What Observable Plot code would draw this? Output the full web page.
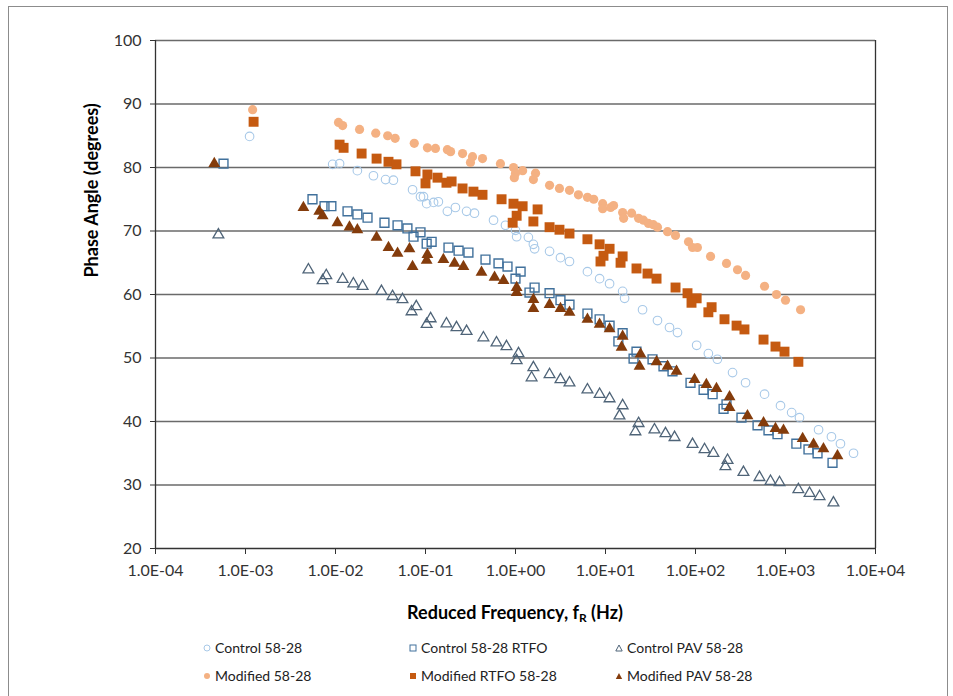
<!DOCTYPE html>
<html>
<head>
<meta charset="utf-8">
<script src="https://cdn.jsdelivr.net/npm/d3@7"></script>
<script src="https://cdn.jsdelivr.net/npm/@observablehq/plot@0.6"></script>
<style>
  html, body { margin: 0; padding: 0; background: #fff; }
  #wrap { position: relative; width: 953px; height: 696px; overflow: hidden; font-family: Lato, "Open Sans", sans-serif; }
  #frame { position: absolute; left: 8px; top: 6px; width: 940px; height: 720px; border: 1px solid #8c8c8c; box-sizing: border-box; }
  #chart { position: absolute; left: 0; top: 0; }
  #xtitle { position: absolute; left: 155px; width: 720px; top: 599px; text-align: center; font-weight: 700; font-size: 18px; line-height: 26px; color: #000; }
  #xtitle sub { font-size: 12px; vertical-align: -3px; line-height: 0; }
  .leg { position: absolute; font-size: 14px; line-height: 16px; color: #222; white-space: nowrap; display: flex; align-items: center; }
  .leg svg { margin-right: 4px; }
</style>
</head>
<body>
<div id="wrap">
  <div id="frame"></div>
  <div id="chart"></div>
  <div id="xtitle">Reduced Frequency, f<sub>R</sub> (Hz)</div>
  <div id="legend"></div>
</div>
<script>
// ---- Data (frequency in Hz, phase angle in degrees) ----
const control5828 = [[1.11e-3,84.9],[0.0093,80.5],[0.0111,80.6],[0.0175,79.5],[0.0264,78.7],[0.036,78.1],[0.044,78.0],[0.0718,76.5],[0.088,75.4],[0.095,75.4],[0.103,74.3],[0.123,74.5],[0.139,74.6],[0.175,73.1],[0.215,73.7],[0.286,73.1],[0.35,72.8],[0.57,71.7],[0.774,70.9],[1.0,70.1],[1.03,69.1],[1.39,69.0],[1.58,67.9],[1.63,67.2],[2.39,66.8],[3.16,65.8],[3.98,65.2],[6.3,63.6],[8.6,62.5],[11.1,61.7],[15.5,60.5],[16.3,59.4],[25.8,57.6],[37.8,55.9],[51.4,54.8],[63.1,54.0],[103,52.0],[139,50.7],[175,49.8],[258,47.7],[360,46.1],[585,44.3],[880,42.5],[1170,41.4],[1430,40.6],[2330,38.7],[3240,37.6],[4080,36.5],[5700,35.0]];

const control5828RTFO = [[5.7e-4,80.6],[5.55e-3,75.0],[7.55e-3,73.9],[9.0e-3,73.9],[0.0136,73.1],[0.0175,72.6],[0.0227,72.1],[0.035,71.3],[0.0489,70.9],[0.063,70.4],[0.0736,69.1],[0.088,69.8],[0.103,68.0],[0.117,68.3],[0.18,67.4],[0.233,66.9],[0.30,66.6],[0.464,65.5],[0.647,64.9],[0.815,64.4],[1.0,62.5],[1.14,63.6],[1.43,60.3],[1.63,61.1],[2.39,60.2],[3.16,59.1],[3.98,58.4],[6.3,57.0],[8.6,56.1],[11.1,55.1],[13.9,52.6],[15.5,53.9],[20.5,49.9],[22.1,51.0],[33.3,49.8],[44.1,48.7],[55.5,47.9],[88,46.1],[123,45.0],[155,44.3],[205,42.0],[221,42.7],[324,40.6],[489,39.4],[647,38.6],[815,38.0],[1320,36.5],[1800,35.6],[2270,35.0],[3330,33.5]];

const controlPAV5828 = [[5.0e-4,69.4],[5.0e-3,63.9],[7.9e-3,63.0],[7.2e-3,62.2],[0.012,62.4],[0.0158,61.7],[0.02,61.3],[0.0324,60.5],[0.043,59.7],[0.0555,59.2],[0.079,58.1],[0.07,57.3],[0.114,56.2],[0.103,55.3],[0.171,55.4],[0.221,54.8],[0.286,54.2],[0.44,53.2],[0.615,52.4],[0.794,51.8],[1.08,50.7],[1.03,49.6],[1.58,48.5],[1.51,46.9],[2.39,47.4],[3.16,46.6],[3.98,46.1],[6.3,45.0],[8.6,44.3],[11.1,43.6],[15.5,42.5],[14.3,40.9],[23.3,39.7],[21.5,38.4],[35,38.7],[46.4,38.1],[58.5,37.5],[92.7,36.4],[126,35.6],[158,35.0],[227,33.9],[215,32.9],[341,32.0],[514,31.2],[681,30.6],[858,30.4],[1390,29.3],[1850,28.7],[2390,28.2],[3410,27.2]];

const modified5828 = [[1.2e-3,89.1],[0.0108,87.1],[0.012,86.6],[0.0185,86.0],[0.028,85.4],[0.038,85.0],[0.046,84.6],[0.075,83.8],[0.105,83.1],[0.129,83.0],[0.175,82.8],[0.19,82.5],[0.258,82.2],[0.333,81.7],[0.316,80.8],[0.43,81.4],[0.68,80.6],[0.95,80.0],[1.0,79.1],[0.97,78.4],[1.2,79.5],[1.67,79.1],[1.58,78.1],[2.39,77.2],[3.08,76.7],[3.98,76.4],[5.0,75.7],[6.3,75.3],[7.4,75.0],[9.3,74.3],[9.3,73.5],[11.4,73.7],[12.3,74.0],[15.5,72.9],[15.9,72.0],[19.5,72.8],[23.3,72.0],[26.4,71.7],[30,71.2],[34,71.0],[37.8,70.6],[48.9,69.9],[60,69.3],[83.6,68.3],[92.7,67.4],[105,67.4],[147,66.0],[221,64.9],[293,63.9],[360,63.0],[585,61.3],[794,60.0],[1000,59.1],[1470,57.6]];

const modifiedRTFO5828 = [[1.23e-3,87.2],[0.0111,83.6],[0.0123,83.1],[0.0195,82.2],[0.0286,81.4],[0.0388,80.9],[0.0476,80.5],[0.0774,79.4],[0.105,78.9],[0.1,77.5],[0.136,78.4],[0.171,77.6],[0.195,77.8],[0.258,76.7],[0.341,76.2],[0.43,75.7],[0.70,75.0],[0.95,74.3],[1.2,73.9],[1.03,72.4],[0.93,71.3],[1.76,73.4],[1.58,71.5],[2.39,70.6],[3.08,70.2],[3.98,69.6],[6.3,68.7],[8.6,67.9],[11.1,67.2],[9.5,66.1],[8.8,65.2],[15.5,66.0],[14.7,65.0],[22.1,64.1],[29.3,63.3],[36.9,62.5],[60,61.1],[81.5,60.2],[103,59.4],[90.3,58.7],[151,58.0],[139,57.2],[210,56.1],[286,55.1],[350,54.5],[570,52.9],[774,51.8],[975,51.0],[1390,49.4]];

const modifiedPAV5828 = [[4.5e-4,80.6],[4.4e-3,73.7],[6.6e-3,73.1],[7.2e-3,72.4],[0.0105,71.3],[0.0143,70.6],[0.0175,70.2],[0.0286,69.0],[0.0388,67.4],[0.0489,66.5],[0.0664,67.2],[0.0718,64.4],[0.103,65.4],[0.105,66.3],[0.158,65.5],[0.21,64.9],[0.264,64.4],[0.419,63.5],[0.585,62.7],[0.736,62.2],[1.03,61.1],[1.03,60.3],[1.58,59.2],[1.58,57.8],[2.39,58.4],[3.16,57.8],[3.98,57.2],[6.3,56.1],[8.6,55.3],[11.1,54.6],[15.5,53.4],[15.1,51.7],[24.5,50.6],[23.9,48.7],[36.9,49.4],[48.9,48.7],[61.5,47.9],[97.5,46.6],[132,45.8],[171,45.2],[239,43.9],[239,42.2],[378,40.9],[570,39.8],[774,38.9],[950,38.6],[1550,37.3],[2050,36.4],[2640,35.7],[3780,34.6]];

const seriesNames = ["Control 58-28", "Control 58-28 RTFO", "Control PAV 58-28", "Modified 58-28", "Modified RTFO 58-28", "Modified PAV 58-28"];
const xTicks = [1e-4, 1e-3, 1e-2, 1e-1, 1e0, 1e1, 1e2, 1e3, 1e4];
const xTickLabels = ["1.0E-04", "1.0E-03", "1.0E-02", "1.0E-01", "1.0E+00", "1.0E+01", "1.0E+02", "1.0E+03", "1.0E+04"];
const yTicks = [20, 30, 40, 50, 60, 70, 80, 90, 100];
const yTitle = "Phase Angle (degrees)";

// ---- Styles ----
const styles = [
  {symbol: "circle",   fill: "none",    stroke: "#A8C9E8", r: 4.3, sw: 1.1},
  {symbol: "square",   fill: "none",    stroke: "#41719C", r: 5.0, sw: 1.4},
  {symbol: "triangle", fill: "none",    stroke: "#4F6478", r: 4.0, sw: 1.3},
  {symbol: "circle",   fill: "#F4B183", stroke: "none",    r: 4.6, sw: 0},
  {symbol: "square",   fill: "#C55A11", stroke: "none",    r: 5.6, sw: 0},
  {symbol: "triangle", fill: "#843C0C", stroke: "none",    r: 4.4, sw: 0}
];
const seriesData = [control5828, control5828RTFO, controlPAV5828, modified5828, modifiedRTFO5828, modifiedPAV5828];

const labelFor = new Map(xTicks.map((t, i) => [t, xTickLabels[i]]));

const chart = Plot.plot({
  width: 953,
  height: 596,
  marginLeft: 155,
  marginRight: 78,
  marginTop: 40,
  marginBottom: 48,
  style: {fontFamily: "Lato, 'Open Sans', sans-serif", fontSize: "16px", color: "#333", background: "transparent", overflow: "visible"},
  x: {type: "log", domain: [1e-4, 1e4]},
  y: {domain: [20, 100]},
  marks: [
    Plot.ruleY(yTicks.filter(d => d !== 20), {stroke: "#6a6a6a", strokeWidth: 1.3}),
    Plot.ruleY([20], {stroke: "#333", strokeWidth: 1.3}),
    Plot.ruleX([1e-4, 1e4], {stroke: "#333", strokeWidth: 1.3}),
    Plot.axisX(xTicks, {anchor: "bottom", tickSize: 6, tickPadding: 10, tickFormat: d => labelFor.get(d), label: null, stroke: "#333"}),
    Plot.axisY(yTicks, {anchor: "left", tickSize: 5, tickPadding: 9, label: null, stroke: "#333"}),
    Plot.text([yTitle], {frameAnchor: "left", dx: -63, dy: -17, rotate: -90, fontWeight: "bold", fontSize: 18, fill: "#000"}),
    ...seriesData.map((data, i) => Plot.dot(data, {
      x: d => d[0],
      y: d => d[1],
      symbol: styles[i].symbol,
      r: styles[i].r,
      fill: styles[i].fill,
      stroke: styles[i].stroke,
      strokeWidth: styles[i].sw
    }))
  ]
});
document.getElementById("chart").appendChild(chart);

// ---- Legend (HTML) ----
const legend = document.getElementById("legend");
const legPos = [[203, 640], [409, 640], [615, 640], [203, 668], [409, 668], [615, 668]];
const legMarker = {
  circle: (s) => `<circle cx="4" cy="4" r="3" fill="${s.fill}" stroke="${s.stroke}" stroke-width="1"/>`,
  square: (s) => `<rect x="1" y="1" width="6" height="6" fill="${s.fill}" stroke="${s.stroke}" stroke-width="1"/>`,
  triangle: (s) => `<path d="M4,1 L7.2,7 L0.8,7 Z" fill="${s.fill}" stroke="${s.stroke}" stroke-width="1"/>`
};
seriesNames.forEach((name, i) => {
  const s = styles[i];
  const div = document.createElement("div");
  div.className = "leg";
  div.style.left = legPos[i][0] + "px";
  div.style.top = legPos[i][1] + "px";
  div.innerHTML = `<svg width="8" height="8" viewBox="0 0 8 8">${legMarker[s.symbol](s)}</svg><span>${name}</span>`;
  legend.appendChild(div);
});
</script>
</body>
</html>
